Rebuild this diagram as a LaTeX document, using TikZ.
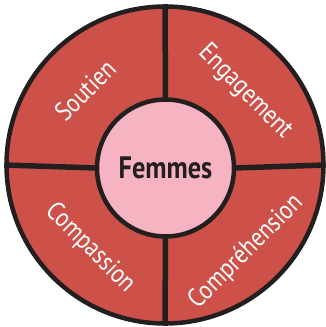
\documentclass[tikz,border=0pt]{standalone}
\usepackage{fontspec}
\newfontfamily\labfont[FakeStretch=0.85]{PT Sans}
\definecolor{wedge}{HTML}{CD5149}
\definecolor{core}{HTML}{F6B3C1}
\definecolor{ink}{HTML}{231F20}
\tikzset{
  lab/.style={text=white, font=\labfont\fontsize{26.5}{28}\selectfont, inner sep=0pt},
  divider/.style={draw=ink, line width=5.5pt}
}
\begin{document}
\begin{tikzpicture}[x=1pt,y=1pt]
\useasboundingbox (0,0) rectangle (326,327);
\node[circle, minimum size=317pt, inner sep=0pt, fill=wedge, draw=ink, line width=4.5pt] (outer) at (165,162) {};
\node[circle, minimum size=137pt, inner sep=0pt, fill=core] (femmes) at (165.5,159) {};
\draw[divider] (outer.north) -- (femmes.north);
\draw[divider] (outer.south) -- (femmes.south);
\draw[divider] (outer.west) -- (femmes.west);
\draw[divider] (outer.east) -- (femmes.east);
\node[circle, minimum size=137pt, inner sep=0pt, draw=ink, line width=4.5pt, font=\labfont\bfseries\fontsize{31}{33}\selectfont, text=ink] at (femmes) {Femmes};
\node[lab, rotate=45] (soutien) at (85,237) {Soutien};
\node[lab, rotate=-45] (engagement) at (245,235) {Engagement};
\node[lab, rotate=-45] (compassion) at (90,79) {Compassion};
\node[lab, rotate=45] (comprehension) at (246,75) {Compréhension};
\end{tikzpicture}
\end{document}
